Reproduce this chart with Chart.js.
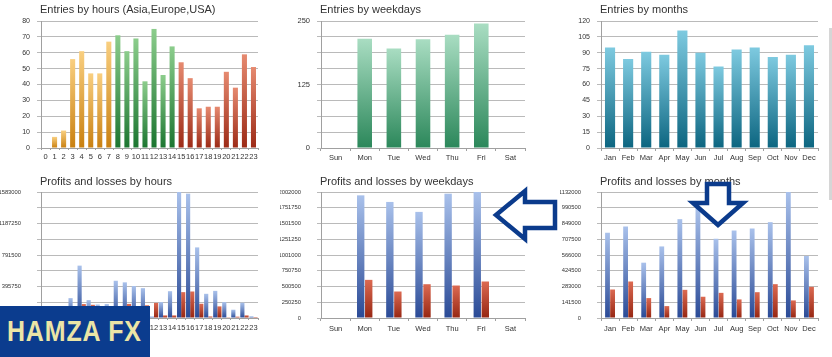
<!DOCTYPE html>
<html>
<head>
<meta charset="utf-8">
<script src="https://cdn.jsdelivr.net/npm/chart.js@4.4.1/dist/chart.umd.min.js"></script>
<style>
  html,body{margin:0;padding:0;background:#fff;}
  #wrap{position:relative;width:832px;height:357px;overflow:hidden;background:#fff;}
  canvas{position:absolute;}
  .title{position:absolute;font-family:"Liberation Sans",Arial,sans-serif;font-size:11px;line-height:11px;color:#333;white-space:nowrap;}
  #logo{position:absolute;left:0;top:306px;width:150px;height:51px;background:#0b3c8e;z-index:5;}
  #logo span{position:absolute;left:7px;top:9px;font-family:"Liberation Sans",Arial,sans-serif;font-weight:bold;font-size:29px;line-height:33px;color:#ebe5a6;letter-spacing:1px;transform:scaleX(0.86);transform-origin:left top;white-space:nowrap;}
  #scroll{position:absolute;left:829px;top:28px;width:3px;height:172px;background:#d6d6d6;}
  svg{position:absolute;left:0;top:0;z-index:4;pointer-events:none;}
</style>
</head>
<body>
<div id="wrap">
  <canvas id="c1" width="280" height="170" style="left:0;top:0"></canvas>
  <canvas id="c2" width="280" height="170" style="left:280px;top:0"></canvas>
  <canvas id="c3" width="272" height="170" style="left:560px;top:0"></canvas>
  <canvas id="c4" width="280" height="187" style="left:0;top:170px"></canvas>
  <canvas id="c5" width="280" height="187" style="left:280px;top:170px"></canvas>
  <canvas id="c6" width="272" height="187" style="left:560px;top:170px"></canvas>
  <div class="title" style="left:40px;top:4px">Entries by hours (Asia,Europe,USA)</div>
  <div class="title" style="left:320px;top:4px">Entries by weekdays</div>
  <div class="title" style="left:600px;top:4px">Entries by months</div>
  <div class="title" style="left:40px;top:176px">Profits and losses by hours</div>
  <div class="title" style="left:320px;top:176px">Profits and losses by weekdays</div>
  <div class="title" style="left:600px;top:176px">Profits and losses by months</div>
  <div id="scroll"></div>
  <svg width="832" height="357">
    <polygon points="496,215 525,191 525,202 555,202 555,228 525,228 525,239" fill="#fff" stroke="#0b3b8c" stroke-width="4.5" stroke-linejoin="miter"/>
    <polygon points="707,184 729,184 729,203 743,203 718,225 693,203 707,203" fill="#fff" stroke="#0b3b8c" stroke-width="4.5" stroke-linejoin="miter"/>
  </svg>
  <div id="logo"><span>HAMZA FX</span></div>
</div>
<script>
// ---------- DATA ----------
const hours = ['0','1','2','3','4','5','6','7','8','9','10','11','12','13','14','15','16','17','18','19','20','21','22','23'];
const entriesByHour = [0,7,11,56,61,47,47,67,71,61,69,42,75,46,64,54,44,25,26,26,48,38,59,51];

const weekdays = ['Sun','Mon','Tue','Wed','Thu','Fri','Sat'];
const entriesByWeekday = [0,215,196,214,223,245,0];

const months = ['Jan','Feb','Mar','Apr','May','Jun','Jul','Aug','Sep','Oct','Nov','Dec'];
const entriesByMonth = [95,84,91,88,111,90,77,93,95,86,88,97];

const profitsByHour = [0,40000,60000,250000,658000,225000,170000,175000,468000,448000,402000,375000,20000,200000,337000,1583000,1562000,887000,304000,341000,200000,104000,192000,21000];
const lossesByHour  = [0,15000,25000,60000,175000,166000,100000,90000,120000,177000,130000,160000,190000,33000,33000,325000,333000,179000,20000,146000,10000,17000,33000,12000];

const profitsByWeekday = [0,1949000,1844000,1686000,1975000,2002000,0];
const lossesByWeekday  = [0,606000,421000,537000,516000,580000,0];

const profitsByMonth = [766000,822000,497000,643000,888000,989000,712000,786000,804000,861000,1132000,557000];
const lossesByMonth  = [256000,328000,179000,107000,253000,191000,226000,167000,232000,304000,158000,280000];

// axis tick settings (max, step, labelled step)
const hourEntryTicks = [80, 10, 10];
const weekdayEntryTicks = [250, 31.25, 125];
const monthEntryTicks = [120, 15, 15];
const hourPLTicks = [1583000, 197875, 395750];
const weekdayPLTicks = [2002000, 250250, 250250];
const monthPLTicks = [1132000, 141500, 141500];

// ---------- HELPERS ----------
const FONT = '"Liberation Sans", Arial, sans-serif';
function grad(top, bottom) {
  return (ctx) => {
    const chart = ctx.chart, ys = chart.scales && chart.scales.y;
    if (!ys || ctx.type !== 'data' || !ctx.parsed) return bottom;
    const v = ctx.parsed.y;
    const y0 = ys.getPixelForValue(0), y1 = ys.getPixelForValue(v);
    if (!isFinite(y0) || !isFinite(y1) || Math.abs(y0 - y1) < 0.5) return bottom;
    const g = chart.ctx.createLinearGradient(0, y1, 0, y0);
    g.addColorStop(0, top); g.addColorStop(1, bottom);
    return g;
  };
}
function hourGrad(ctx) {
  const i = ctx.dataIndex;
  if (i <= 7) return grad('#f9cf80', '#c98010')(ctx);
  if (i <= 14) return grad('#8ccd8c', '#1b7530')(ctx);
  return grad('#e68a70', '#9c2a16')(ctx);
}
function makeChart(id, labels, datasets, tk, opt) {
  const [max, step, labStep] = tk;
  new Chart(document.getElementById(id), {
    type: 'bar',
    data: { labels, datasets },
    options: {
      responsive: false, animation: false, devicePixelRatio: 1,
      layout: { padding: { top: opt.top, right: opt.right, bottom: 0, left: 0 } },
      plugins: { legend: { display: false }, tooltip: { enabled: false }, title: { display: false } },
      scales: {
        x: {
          grid: { display: true, drawOnChartArea: false, drawTicks: true, tickLength: opt.xTick, color: '#a0a0a0', offset: true },
          border: { display: true, color: '#a0a0a0' },
          ticks: { padding: opt.xPad, autoSkip: false, maxRotation: 0, minRotation: 0, color: '#333', font: { family: FONT, size: opt.xFont } },
          afterFit: s => { s.height = opt.xH; }
        },
        y: {
          min: 0, max: max,
          grid: { color: '#bababa', tickLength: 4, drawTicks: true },
          border: { display: true, color: '#a0a0a0' },
          ticks: {
            stepSize: step, padding: opt.yPad, color: '#333', font: { family: FONT, size: opt.yFont },
            callback: v => (Math.abs(v / labStep - Math.round(v / labStep)) < 1e-6 ? String(v) : '')
          },
          afterFit: s => { s.width = 41; }
        }
      }
    }
  });
}

// ---------- CHARTS ----------
const topOpt = { top: 21, xH: 22, xTick: 3, xPad: 2, xFont: 7.5, yPad: 7, yFont: 7 };
const botOpt = { top: 22, xH: 39, xTick: 3, xPad: 3, xFont: 7.5, yPad: 16, yFont: 5.8 };

makeChart('c1', hours, [{ data: entriesByHour, backgroundColor: hourGrad, categoryPercentage: 1, barPercentage: 0.56 }],
  hourEntryTicks, Object.assign({}, topOpt, { right: 22, xTick: 2 }));
makeChart('c2', weekdays, [{ data: entriesByWeekday, backgroundColor: grad('#a9ddc2', '#2b875a'), categoryPercentage: 1, barPercentage: 0.5 }],
  weekdayEntryTicks, Object.assign({}, topOpt, { right: 35, yFont: 7.5 }));
makeChart('c3', months, [{ data: entriesByMonth, backgroundColor: grad('#7ecae0', '#0c6580'), categoryPercentage: 1, barPercentage: 0.56 }],
  monthEntryTicks, Object.assign({}, topOpt, { right: 14 }));

makeChart('c4', hours, [
  { data: profitsByHour, backgroundColor: grad('#a9c1eb', '#2a4a96'), categoryPercentage: 0.92, barPercentage: 1 },
  { data: lossesByHour, backgroundColor: grad('#dc6a52', '#962612'), categoryPercentage: 0.92, barPercentage: 1 }
], hourPLTicks, Object.assign({}, botOpt, { right: 22, xTick: 2 }));
makeChart('c5', weekdays, [
  { data: profitsByWeekday, backgroundColor: grad('#a9c1eb', '#2a4a96'), categoryPercentage: 0.55, barPercentage: 0.92 },
  { data: lossesByWeekday, backgroundColor: grad('#dc6a52', '#962612'), categoryPercentage: 0.55, barPercentage: 0.92 }
], weekdayPLTicks, Object.assign({}, botOpt, { right: 35 }));
makeChart('c6', months, [
  { data: profitsByMonth, backgroundColor: grad('#a9c1eb', '#2a4a96'), categoryPercentage: 0.56, barPercentage: 0.95 },
  { data: lossesByMonth, backgroundColor: grad('#dc6a52', '#962612'), categoryPercentage: 0.56, barPercentage: 0.95 }
], monthPLTicks, Object.assign({}, botOpt, { right: 14 }));
</script>
</body>
</html>
